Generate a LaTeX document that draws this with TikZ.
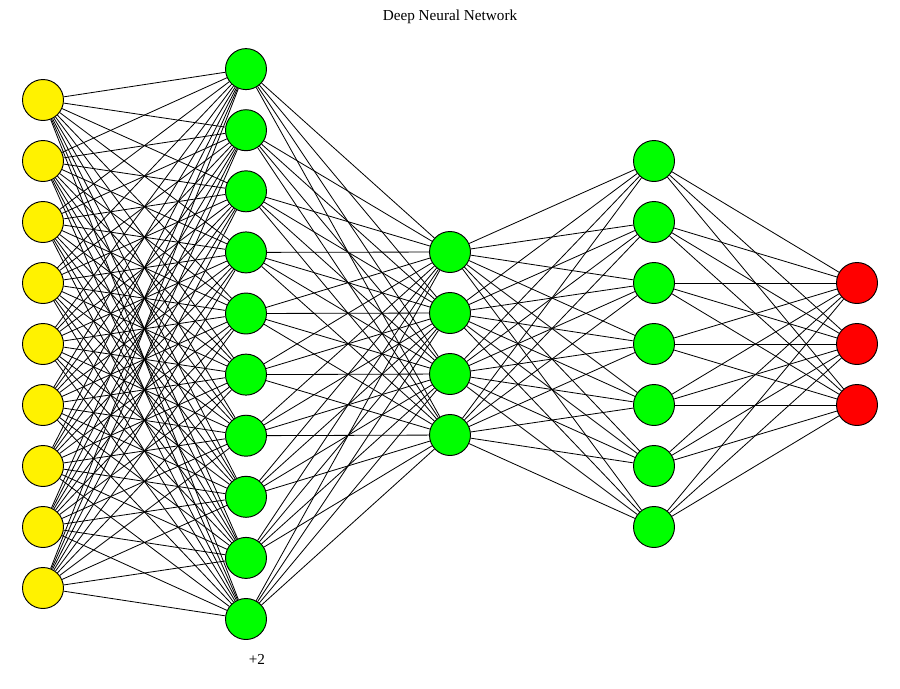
\documentclass[tikz,border=0pt]{standalone}
\usepackage{fontspec}
\setmainfont{Liberation Serif}
\usetikzlibrary{positioning}

\tikzset{
  neuron/.style = {circle, draw, line width=0.8pt, minimum size=1.23cm, inner sep=0pt},
  input/.style = {neuron, fill=yellow},
  hidden/.style = {neuron, fill=green},
  output/.style = {neuron, fill=red},
  link/.style = {line width=0.7pt}
}

\begin{document}
\begin{tikzpicture}[x=0.03cm, y=-0.03cm]
        \useasboundingbox [fill=white] (0,0) rectangle (900,688);
        \node (title) at (450,17) {\fontsize{13}{15}\selectfont Deep Neural Network};

        % layers
        \foreach \i in {1,...,9}
            \node (a\i) [input] at (43, 39+61*\i) {};
        \foreach \i in {1,...,10}
            \node (b\i) [hidden] at (246, 8+61.1*\i) {};
        \foreach \i in {1,...,4}
            \node (c\i) [hidden] at (450, 191+61*\i) {};
        \foreach \i in {1,...,7}
            \node (d\i) [hidden] at (654, 100+61*\i) {};
        \foreach \i in {1,...,3}
            \node (e\i) [output] at (857, 222+61*\i) {};

        \node (more) [below = 0.3cm of b10, xshift=0.33cm] {\fontsize{13}{15}\selectfont +2};

        % connections
        \foreach \i in {1,...,9}
            \foreach \j in {1,...,10}
                \draw [link] (a\i) -- (b\j);
        \foreach \i in {1,...,10}
            \foreach \j in {1,...,4}
                \draw [link] (b\i) -- (c\j);
        \foreach \i in {1,...,4}
            \foreach \j in {1,...,7}
                \draw [link] (c\i) -- (d\j);
        \foreach \i in {1,...,7}
            \foreach \j in {1,...,3}
                \draw [link] (d\i) -- (e\j);
    \end{tikzpicture}
\end{document}
